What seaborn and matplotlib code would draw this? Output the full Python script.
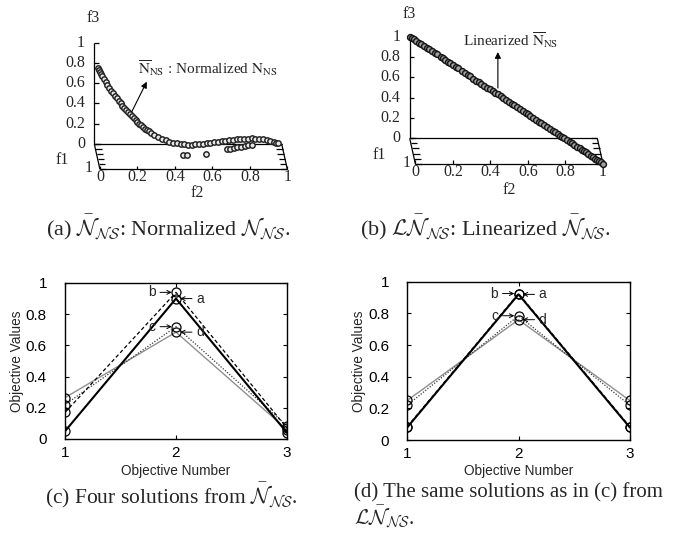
import numpy as np
import pandas as pd
import matplotlib
matplotlib.use("Agg")
import matplotlib.pyplot as plt
import seaborn as sns

# ---------------- data ----------------
# (a) normalized non-dominated set: points on the back plane (f1 = 0)
f2_a_curve = [0.02, 0.025, 0.03, 0.035, 0.04,
              0.05, 0.06, 0.07, 0.08, 0.09, 0.10, 0.11, 0.12, 0.13, 0.14,
              0.15, 0.16, 0.17, 0.18, 0.19, 0.20, 0.21, 0.22, 0.23, 0.24,
              0.25, 0.26, 0.27, 0.28, 0.29, 0.30,
              0.32, 0.34, 0.36, 0.38, 0.40, 0.42, 0.44, 0.46, 0.48, 0.50,
              0.52, 0.54, 0.56, 0.58, 0.60, 0.62, 0.64, 0.66, 0.68, 0.70,
              0.72, 0.74, 0.76, 0.78, 0.80, 0.82, 0.84, 0.86, 0.88, 0.90,
              0.92, 0.94, 0.96,
              0.97, 0.98]
f3_a_curve = [0.750, 0.735, 0.715, 0.695, 0.675,
              0.642, 0.613, 0.584, 0.556, 0.528, 0.501, 0.475, 0.450, 0.425, 0.401,
              0.378, 0.356, 0.334, 0.312, 0.292, 0.272, 0.253, 0.235, 0.217, 0.200,
              0.184, 0.168, 0.153, 0.139, 0.125, 0.112,
              0.089, 0.068, 0.050, 0.035, 0.022, 0.012, 0.006, 0.002, 0.000, -0.005,
              -0.006, -0.004, -0.002, 0.003, 0.008, 0.012, 0.018, 0.023, 0.028, 0.033,
              0.037, 0.041, 0.045, 0.049, 0.052, 0.054, 0.055, 0.054, 0.051, 0.047,
              0.041, 0.033, 0.022,
              0.014, 0.006]
# (a) points lying in front of the back plane (f3 = 0)
f2_a_front = [0.459, 0.483, 0.584, 0.70, 0.72, 0.74, 0.76, 0.78, 0.80, 0.82, 0.84]
f1_a_front = [0.43, 0.43, 0.40, 0.21, 0.19, 0.16, 0.13, 0.10, 0.08, 0.05, 0.03]

# (b) linearized set
f2_b = [0.00, 0.01, 0.02, 0.035, 0.05, 0.06, 0.075, 0.09, 0.10, 0.115, 0.13, 0.14,
        0.16, 0.17, 0.185, 0.20, 0.21, 0.225, 0.24, 0.25, 0.27, 0.285, 0.30, 0.31,
        0.33, 0.345, 0.36, 0.37, 0.385, 0.40, 0.415, 0.43, 0.44, 0.455, 0.47, 0.485,
        0.50, 0.515, 0.53, 0.54, 0.555, 0.57, 0.585, 0.60, 0.61, 0.625, 0.64, 0.655,
        0.67, 0.68, 0.695, 0.71, 0.725, 0.74, 0.75, 0.765, 0.78, 0.79, 0.80, 0.815,
        0.83, 0.84, 0.85, 0.865, 0.88, 0.89, 0.90, 0.91, 0.925, 0.94, 0.95, 0.96,
        0.97, 0.98, 0.99, 1.00]
f3_b = [1.00, 0.99, 0.98, 0.965, 0.95, 0.94, 0.925, 0.91, 0.90, 0.885, 0.87, 0.86,
        0.84, 0.83, 0.815, 0.80, 0.79, 0.775, 0.76, 0.75, 0.73, 0.715, 0.70, 0.69,
        0.67, 0.655, 0.64, 0.63, 0.615, 0.60, 0.585, 0.57, 0.56, 0.545, 0.53, 0.515,
        0.50, 0.485, 0.47, 0.46, 0.445, 0.43, 0.415, 0.40, 0.39, 0.375, 0.36, 0.345,
        0.33, 0.32, 0.305, 0.29, 0.275, 0.26, 0.25, 0.235, 0.22, 0.21, 0.20, 0.185,
        0.17, 0.16, 0.15, 0.135, 0.12, 0.11, 0.10, 0.09, 0.075, 0.06, 0.05, 0.04,
        0.03, 0.02, 0.01, 0.00]
f1_b = list(f2_b)

# (c) and (d): four solutions, objective values
objectives = [1, 2, 3]
sol_names = ["a", "b", "c", "d"]
c_vals = {"a": [0.05, 0.90, 0.04],
          "b": [0.17, 0.94, 0.07],
          "c": [0.22, 0.72, 0.085],
          "d": [0.265, 0.685, 0.06]}
d_vals = {"a": [0.08, 0.92, 0.08],
          "b": [0.085, 0.925, 0.085],
          "c": [0.22, 0.785, 0.22],
          "d": [0.25, 0.76, 0.25]}

tick_vals = [0, 0.2, 0.4, 0.6, 0.8, 1]
tick_labels = ["0", "0.2", "0.4", "0.6", "0.8", "1"]
obj_labels = ["1", "2", "3"]

# ---------------- style ----------------
sns.set_style("white")
plt.rcParams["font.family"] = ["Liberation Serif", "DejaVu Serif"]

W, H = 678, 536
fig = plt.figure(figsize=(W / 100, H / 100), dpi=100)

SX, SY = 0.03, 0.25  # oblique projection of the f1 (depth) direction


def proj(f1, f2, f3):
    f1 = np.asarray(f1, float)
    f2 = np.asarray(f2, float)
    f3 = np.asarray(f3, float)
    return f2 + SX * f1, f3 - SY * f1


def px_axes(ox, oy, ux, uy, xlim, ylim):
    left = ox + xlim[0] * ux
    right = ox + xlim[1] * ux
    top = oy - ylim[1] * uy
    bottom = oy - ylim[0] * uy
    ax = fig.add_axes([left / W, 1 - bottom / H, (right - left) / W, (bottom - top) / H])
    ax.set_xlim(xlim)
    ax.set_ylim(ylim)
    ax.axis("off")
    return ax


def frame3d(ax, lab_dy, f2lab, f1lab, one_lab, f3lab):
    k = dict(color="black", lw=0.9, solid_capstyle="butt", zorder=1)
    ax.plot(*proj([0, 0], [0, 0], [0, 1]), **k)
    ax.plot(*proj([0, 0], [0, 1], [0, 0]), **k)
    ax.plot(*proj([0, 1], [0, 0], [0, 0]), **k)
    ax.plot(*proj([0, 1], [1, 1], [0, 0]), **k)
    ax.plot(*proj([1, 1], [0, 1], [0, 0]), **k)
    fs = 11.5
    for t, lab in zip(tick_vals, tick_labels):
        ax.plot([0, 0.025], [t, t], **k)
        x0, y0 = proj(t, 0, 0)
        ax.plot([x0, x0 + 0.035], [y0, y0], **k)
        x1, y1 = proj(t, 1, 0)
        ax.plot([x1, x1 - 0.035], [y1, y1], **k)
        xf, yf = proj(1, t, 0)
        ax.plot([xf, xf], [yf, yf + 0.035], **k)
        ax.text(-0.05, t, lab, ha="right", va="center", fontsize=fs)
        ax.text(xf, yf - lab_dy, lab, ha="center", va="center", fontsize=fs)
    ax.text(*f2lab, "f2", ha="center", va="center", fontsize=fs)
    ax.text(*f1lab, "f1", ha="center", va="center", fontsize=fs)
    ax.text(*one_lab, "1", ha="center", va="center", fontsize=fs)
    ax.text(*f3lab, "f3", ha="center", va="center", fontsize=fs)


# ---------------- panel (a) ----------------
axa = px_axes(94.3, 144.0, 187.4, 101.3, (-0.25, 1.15), (-0.5, 1.3))
frame3d(axa, 0.077, (0.548, -0.484), (-0.172, -0.158), (-0.028, -0.237), (-0.007, 1.244))
xa1, ya1 = proj(np.zeros(len(f2_a_curve)), f2_a_curve, f3_a_curve)
xa2, ya2 = proj(f1_a_front, f2_a_front, np.zeros(len(f2_a_front)))
sns.scatterplot(x=np.concatenate([xa1, xa2]), y=np.concatenate([ya1, ya2]), ax=axa,
                marker="o", s=15, color="#e8e8e8", edgecolor="#222222", linewidth=1.05, zorder=3)
axa.annotate("", xy=(0.28, 0.615), xytext=(0.20, 0.319),
             arrowprops=dict(arrowstyle="-|>", lw=0.8, color="black", mutation_scale=9,
                             shrinkA=0, shrinkB=0), zorder=4)
axa.text(0.233, 0.75, r"$\overline{\mathrm{N}}_{\mathrm{NS}}$ : Normalized $\mathrm{N}_{\mathrm{NS}}$",
         ha="left", va="center", fontsize=11, math_fontfamily="stix")

# ---------------- panel (b) ----------------
axb = px_axes(409.7, 138.3, 187.6, 101.6, (-0.25, 1.15), (-0.5, 1.3))
frame3d(axb, 0.085, (0.529, -0.509), (-0.164, -0.164), (-0.014, -0.243), (-0.004, 1.224))
xb, yb = proj(f1_b, f2_b, f3_b)
sns.scatterplot(x=xb, y=yb, ax=axb, marker="o", s=18, color="#a0a0a0",
                edgecolor="#151515", linewidth=1.05, zorder=3)
axb.annotate("", xy=(0.47, 0.849), xytext=(0.47, 0.495),
             arrowprops=dict(arrowstyle="-|>", lw=0.8, color="black", mutation_scale=9,
                             shrinkA=0, shrinkB=0), zorder=4)
axb.text(0.284, 0.967, r"Linearized $\overline{\mathrm{N}}_{\mathrm{NS}}$",
         ha="left", va="center", fontsize=11, math_fontfamily="stix")

# ---------------- panels (c), (d) ----------------
line_styles = {
    "a": dict(color="black", lw=1.5, ls="-"),
    "b": dict(color="black", lw=0.9, ls=(0, (3, 2))),
    "c": dict(color="#3a3a3a", lw=0.9, ls=(0, (1, 1.3))),
    "d": dict(color="#909090", lw=1.0, ls="-"),
}


def parallel(rect, vals, ylab_x, xlab_y):
    ax = fig.add_axes(rect)
    for name in ["d", "c", "b", "a"]:
        st = line_styles[name]
        sns.lineplot(x=objectives, y=vals[name], ax=ax, color=st["color"], lw=st["lw"],
                     linestyle=st["ls"], marker="o", markersize=6.5,
                     markerfacecolor="none", markeredgecolor="black",
                     markeredgewidth=0.9)
    ax.set_xlim(1, 3)
    ax.set_ylim(0, 1)
    ax.set_xticks(objectives)
    ax.set_xticklabels(obj_labels, fontfamily="Liberation Sans", fontsize=11)
    ax.set_yticks(tick_vals)
    ax.set_yticklabels(tick_labels, fontfamily="Liberation Sans", fontsize=11)
    ax.tick_params(direction="in", length=3, width=0.8, top=True, right=True,
                   bottom=True, left=True, colors="black")
    ax.tick_params(axis="y", pad=13)
    ax.tick_params(axis="x", pad=5)
    for sp in ax.spines.values():
        sp.set_visible(True)
        sp.set_color("black")
        sp.set_linewidth(1.0)
    ax.set_xlabel("Objective Number", fontfamily="Liberation Sans", fontsize=9.8)
    ax.set_ylabel("Objective Values", fontfamily="Liberation Sans", fontsize=9.8)
    ax.xaxis.label.set_verticalalignment("center")
    ax.yaxis.label.set_verticalalignment("center")
    ax.yaxis.set_label_coords(ylab_x, 0.5)
    ax.xaxis.set_label_coords(0.5, xlab_y)
    # labels a-d with arrows
    for name, side in [("b", -1), ("a", 1), ("c", -1), ("d", 1)]:
        y = vals[name][1]
        ax.annotate("", xy=(2, y), xytext=(side * 11.5, 0), textcoords="offset points",
                    arrowprops=dict(arrowstyle="->", lw=0.7, color="black",
                                    shrinkA=0, shrinkB=3, mutation_scale=7))
        ax.annotate(name, xy=(2, y), xytext=(side * 17.3, 0), textcoords="offset points",
                    ha="center", va="center", fontsize=10, fontfamily="Liberation Sans")
    return ax


axc = parallel([65 / W, 1 - 439 / H, 222 / W, 156 / H], c_vals,
               (17 - 65) / 222, (439 - 471) / 156)
axd = parallel([407.3 / W, 1 - 440 / H, 222.4 / W, 158.3 / H], d_vals,
               (359 - 407.3) / 222.4, (440 - 471) / 158.3)

# ---------------- captions ----------------
cap = dict(fontsize=16, math_fontfamily="cm", va="center")
fig.text(168 / W, 1 - 227 / H,
         r"(a) $\bar{\mathcal{N}}_{\mathcal{NS}}$: Normalized $\mathcal{N}_{\mathcal{NS}}$.",
         ha="center", **cap)
fig.text(485 / W, 1 - 227 / H,
         r"(b) $\mathcal{L}\bar{\mathcal{N}}_{\mathcal{NS}}$: Linearized $\bar{\mathcal{N}}_{\mathcal{NS}}$.",
         ha="center", **cap)
fig.text(171 / W, 1 - 495 / H,
         r"(c) Four solutions from $\bar{\mathcal{N}}_{\mathcal{NS}}$.", ha="center",
         **dict(cap, fontsize=15.5))
capd = dict(cap, fontsize=15)
fig.text(354 / W, 1 - 493 / H, "(d) The same solutions as in (c) from", ha="left", **capd)
fig.text(354 / W, 1 - 517 / H, r"$\mathcal{L}\bar{\mathcal{N}}_{\mathcal{NS}}$.", ha="left", **capd)

fig.savefig("out.png", dpi=100)
